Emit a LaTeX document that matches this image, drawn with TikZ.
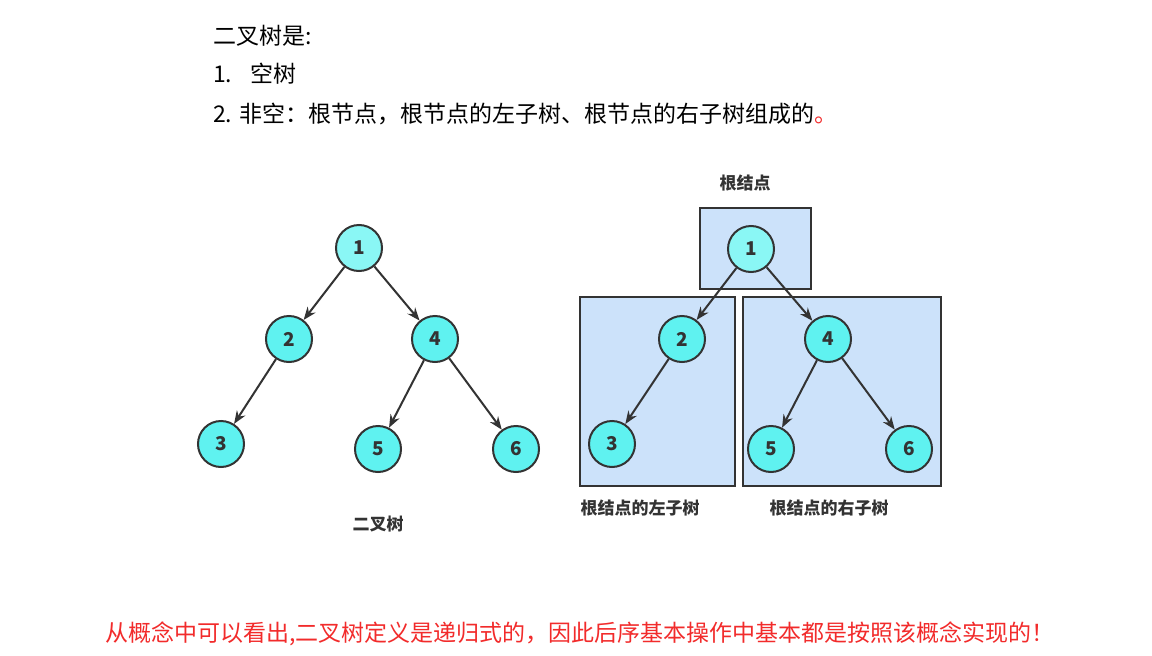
\documentclass[tikz,border=0pt]{standalone}
\usepackage{fontspec}
\setmainfont{Noto Sans CJK SC}
\usetikzlibrary{arrows.meta}
\definecolor{cyanfill}{HTML}{5FF2F0}
\definecolor{cyanlight}{HTML}{8AF7F5}
\definecolor{boxfill}{HTML}{CCE2FA}
\definecolor{edge}{HTML}{333333}
\definecolor{redtxt}{HTML}{F22B2B}
\tikzset{
  tnode/.style={circle,draw=edge,fill=cyanfill,line width=2pt,minimum size=46pt,inner sep=0pt,font=\fontsize{19}{19}\selectfont\bfseries,text=edge},
  tedge/.style={draw=edge,line width=2pt,-{Stealth[length=13pt,width=10pt]}},
  sbox/.style={draw=edge,fill=boxfill,line width=2pt},
  caption/.style={font=\fontsize{17}{17}\selectfont\bfseries,text=edge},
  body/.style={font=\fontsize{23}{27}\selectfont,anchor=west,inner sep=0pt}
}
\begin{document}
\begin{tikzpicture}[x=1pt,y=-1pt]
\useasboundingbox[fill=white] (0,0) rectangle (1152,656);
% heading text
\node[body] (t1) at (213,36) {二叉树是:};
\node[body] (t2) at (213,74) {1.\hspace{18pt}空树};
\node[body] (t3) at (213,114) {2. 非空：根节点，根节点的左子树、根节点的右子树组成的\textcolor{redtxt}{。}};
% left tree
\node[tnode,fill=cyanlight] (a1) at (359,248) {1};
\node[tnode] (a2) at (289,339) {2};
\node[tnode] (a4) at (435,339) {4};
\node[tnode] (a3) at (221,444) {3};
\node[tnode] (a5) at (378,449) {5};
\node[tnode] (a6) at (516,449) {6};
\draw[tedge] (a1) -- (a2);
\draw[tedge] (a1) -- (a4);
\draw[tedge] (a2) -- (a3);
\draw[tedge] (a4) -- (a5);
\draw[tedge] (a4) -- (a6);
\node[caption] (lab1) at (378,524) {二叉树};
% right tree boxes
\draw[sbox] (700,208) rectangle (811,289);
\draw[sbox] (580,297) rectangle (735,486);
\draw[sbox] (743,297) rectangle (941,486);
\node[caption] (lab2) at (745,183) {根结点};
\node[caption] (lab3) at (640,508) {根结点的左子树};
\node[caption] (lab4) at (829,508) {根结点的右子树};
\node[tnode,fill=cyanlight] (b1) at (751,249) {1};
\node[tnode] (b2) at (682,339) {2};
\node[tnode] (b4) at (828,339) {4};
\node[tnode] (b3) at (612,444) {3};
\node[tnode] (b5) at (771,449) {5};
\node[tnode] (b6) at (909,449) {6};
\draw[tedge] (b1) -- (b2);
\draw[tedge] (b1) -- (b4);
\draw[tedge] (b2) -- (b3);
\draw[tedge] (b4) -- (b5);
\draw[tedge] (b4) -- (b6);
% bottom note
\node[body,text=redtxt] (note) at (105,634) {从概念中可以看出,二叉树定义是递归式的，因此后序基本操作中基本都是按照该概念实现的！};
\end{tikzpicture}
\end{document}
